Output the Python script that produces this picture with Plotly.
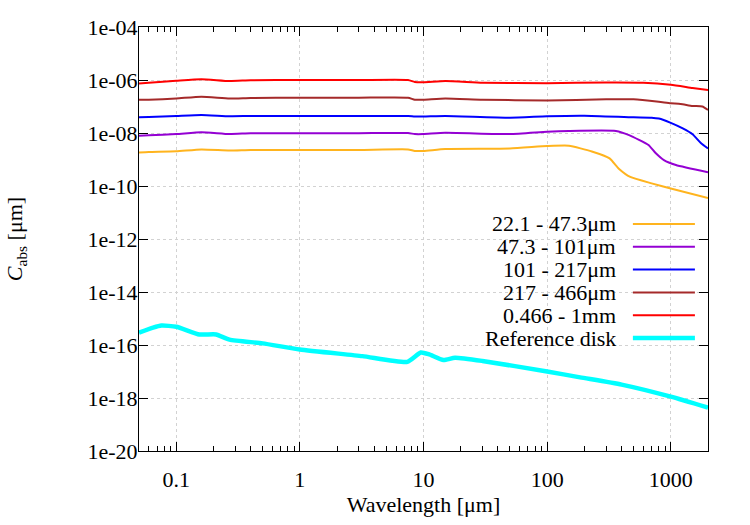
import plotly.graph_objects as go

# ---- data ----
red_x = [0.05, 0.06, 0.1, 0.16, 0.27, 0.4, 1, 3, 7.5, 8.5, 10, 15, 30, 100, 300, 600, 1000, 1500, 2000]
red_y = [7.4e-7, 7.8e-7, 9.3e-7, 1.07e-6, 9.1e-7, 9.8e-7, 1.0e-6, 1.0e-6, 1.0e-6, 8.4e-7, 8.2e-7, 9.1e-7,
         7.9e-7, 7.6e-7, 8.1e-7, 7.9e-7, 6.6e-7, 5.0e-7, 4.2e-7]

brown_x = [0.05, 0.06, 0.1, 0.16, 0.27, 0.4, 1, 3, 7.5, 8.5, 10, 15, 30, 100, 300, 500, 800, 1000, 1200, 1500, 1800, 2000]
brown_y = [1.78e-7, 1.8e-7, 2.0e-7, 2.35e-7, 2.0e-7, 2.1e-7, 2.15e-7, 2.15e-7, 2.15e-7, 1.8e-7, 1.8e-7, 2.0e-7,
           1.8e-7, 1.7e-7, 1.86e-7, 1.86e-7, 1.5e-7, 1.32e-7, 1.25e-7, 1.05e-7, 1.0e-7, 7.4e-8]

blue_x = [0.05, 0.06, 0.1, 0.16, 0.27, 0.4, 1, 3, 7.5, 8.5, 10, 15, 50, 100, 200, 500, 700, 800, 1000, 1250, 1500, 1750, 2000]
blue_y = [3.9e-8, 4.0e-8, 4.4e-8, 4.8e-8, 4.3e-8, 4.4e-8, 4.4e-8, 4.4e-8, 4.4e-8, 4.2e-8, 4.2e-8, 4.4e-8,
          3.8e-8, 4.3e-8, 4.5e-8, 3.9e-8, 3.8e-8, 3.5e-8, 2.4e-8, 1.48e-8, 8.9e-9, 4.2e-9, 2.6e-9]

purple_x = [0.05, 0.06, 0.1, 0.16, 0.27, 0.4, 1, 3, 7.5, 8.5, 10, 15, 50, 100, 150, 360, 460, 660, 750, 880, 1100, 2000]
purple_y = [7.9e-9, 8.2e-9, 9.1e-9, 1.07e-8, 9.1e-9, 9.8e-9, 9.8e-9, 9.8e-9, 1.0e-8, 9.1e-9, 9.1e-9, 1.02e-8,
            9.1e-9, 1.12e-8, 1.2e-8, 1.2e-8, 8.3e-9, 3.5e-9, 1.8e-9, 9.5e-10, 6.2e-10, 3.3e-10]

orange_x = [0.05, 0.06, 0.1, 0.16, 0.27, 0.4, 1, 3, 7.5, 8.5, 10, 15, 50, 100, 150, 230, 320, 380, 470, 700, 1000, 2000]
orange_y = [1.82e-9, 1.9e-9, 2.04e-9, 2.4e-9, 2.2e-9, 2.3e-9, 2.3e-9, 2.3e-9, 2.4e-9, 2.1e-9, 2.1e-9, 2.5e-9,
            2.6e-9, 3.2e-9, 3.3e-9, 2.0e-9, 1.1e-9, 4.5e-10, 2.2e-10, 1.26e-10, 8.1e-11, 3.5e-11]

disk_x = [0.05, 0.065, 0.076, 0.1, 0.154, 0.21, 0.27, 0.5, 1, 3.2, 7.4, 9.5, 11, 14.5, 18, 30, 100, 185, 400, 1000, 2000]
disk_y = [2.9e-16, 4.5e-16, 5.4e-16, 4.9e-16, 2.5e-16, 2.5e-16, 1.6e-16, 1.15e-16, 6.8e-17, 3.8e-17, 2.3e-17,
          5.2e-17, 4.5e-17, 2.7e-17, 3.3e-17, 2.5e-17, 1.0e-17, 6.0e-18, 3.2e-18, 1.12e-18, 4.3e-19]

series_names = ["22.1 - 47.3μm", "47.3 - 101μm", "101 - 217μm", "217 - 466μm", "0.466 - 1mm", "Reference disk"]
series_x = [orange_x, purple_x, blue_x, brown_x, red_x, disk_x]
series_y = [orange_y, purple_y, blue_y, brown_y, red_y, disk_y]
series_colors = ["#ffb41e", "#9400d3", "#0000ff", "#a52a2a", "#ff0000", "#00ffff"]
series_widths = [2, 2, 2, 2, 2, 4.5]

x_tickvals = [0.1, 1, 10, 100, 1000]
x_ticktext = ["0.1", "1", "10", "100", "1000"]
y_tickvals = [1e-20, 1e-18, 1e-16, 1e-14, 1e-12, 1e-10, 1e-8, 1e-6, 1e-4]
y_ticktext = ["1e-20", "1e-18", "1e-16", "1e-14", "1e-12", "1e-10", "1e-08", "1e-06", "1e-04"]

FONT = "Liberation Serif"
FS = 22

fig = go.Figure()
for name, xs, ys, c, w in zip(series_names, series_x, series_y, series_colors, series_widths):
    fig.add_trace(go.Scatter(x=xs, y=ys, mode="lines", name=name,
                             line=dict(color=c, width=w, shape="spline", smoothing=0.5),
                             showlegend=False))

# manual gnuplot-style legend (text right-aligned, sample line to the right)
leg_text_x = 0.842
leg_line_x0, leg_line_x1 = 0.868, 0.977
leg_y0 = 0.5354
leg_dy = 0.0538
for i, (name, c, w) in enumerate(zip(series_names, series_colors, series_widths)):
    yy = leg_y0 - i * leg_dy
    fig.add_annotation(x=leg_text_x, y=yy, xref="paper", yref="paper", text=name,
                       showarrow=False, xanchor="right", yanchor="middle",
                       font=dict(family=FONT, size=FS, color="black"))
    fig.add_shape(type="line", xref="paper", yref="paper", x0=leg_line_x0, x1=leg_line_x1,
                  y0=yy, y1=yy, line=dict(color=c, width=w))

minor_x = []
for dec in [0.01, 0.1, 1, 10, 100, 1000]:
    for k in range(2, 10):
        v = dec * k
        if 0.05 <= v <= 2000:
            minor_x.append(v)

fig.update_layout(
    width=750, height=525,
    margin=dict(l=139, r=42, t=27, b=74),
    paper_bgcolor="white", plot_bgcolor="white",
    font=dict(family=FONT, size=FS, color="black"),
    xaxis=dict(type="log", range=[-1.30103, 3.30103], tickvals=x_tickvals, ticktext=x_ticktext,
        ticks="inside", ticklen=9, tickcolor="black", tickwidth=1,
        showline=True, linecolor="black", linewidth=1.2, mirror="ticks",
        showgrid=True, gridcolor="#d2d2d2", griddash="dot", gridwidth=1,
        minor=dict(tickvals=minor_x, ticks="inside", ticklen=5, tickcolor="black", showgrid=False),
        zeroline=False, ticklabelstandoff=8,
        title=dict(text="Wavelength [μm]", font=dict(family=FONT, size=FS), standoff=6),
        tickfont=dict(family=FONT, size=FS)),
    yaxis=dict(type="log", range=[-20, -4], tickvals=y_tickvals, ticktext=y_ticktext,
        ticks="inside", ticklen=9, tickcolor="black", tickwidth=1,
        showline=True, linecolor="black", linewidth=1.2, mirror="ticks",
        showgrid=True, gridcolor="#d2d2d2", griddash="dot", gridwidth=1,
        zeroline=False, ticklabelstandoff=-4,
        title=dict(text="<i>C</i><sub>abs</sub> [μm]", font=dict(family=FONT, size=FS), standoff=58),
        tickfont=dict(family=FONT, size=FS)),
)

fig.write_html("out.html")
